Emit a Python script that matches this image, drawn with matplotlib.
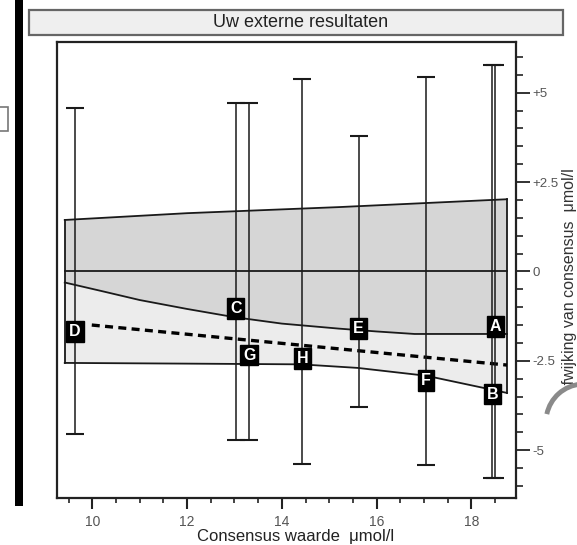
import numpy as np
import matplotlib.pyplot as plt
from matplotlib.patches import Rectangle, Circle, Arc

plt.rcParams['font.family'] = ['Liberation Sans', 'DejaVu Sans']

# labs: letter, consensus value, deviation from consensus
labels = ['A', 'B', 'C', 'D', 'E', 'F', 'G', 'H']
lab_x = [18.50, 18.44, 13.03, 9.64, 15.62, 17.04, 13.31, 14.43]
lab_y = [-1.55, -3.43, -1.04, -1.69, -1.59, -3.05, -2.34, -2.43]

# allowed deviation (bars around 0)
bar_x = [9.64, 13.03, 13.31, 14.43, 15.62, 17.05, 18.44, 18.50]
bar_half = [4.56, 4.72, 4.72, 5.38, 3.78, 5.43, 5.77, 5.77]

# band boundaries
band_x = [9.42, 12.0, 15.2, 18.75]
band_top = [1.44, 1.63, 1.80, 2.02]
curve_x = [9.42, 10.2, 11.0, 12.0, 13.0, 14.0, 15.2, 16.0, 16.8, 18.75]
curve_y = [-0.31, -0.55, -0.80, -1.05, -1.28, -1.46, -1.60, -1.68, -1.75, -1.75]
low_x = [9.42, 12.0, 14.4, 15.6, 17.05, 18.4, 18.75]
low_y = [-2.56, -2.58, -2.60, -2.70, -2.92, -3.30, -3.40]

# dashed trend
trend_x = [9.99, 18.75]
trend_y = [-1.50, -2.62]

W, H = 577, 545
fig = plt.figure(figsize=(W / 100, H / 100), dpi=100)


def px_rect(x0, y0, x1, y1, **kw):
    # rectangle in pixel coords (y from top)
    r = Rectangle((x0 / W, 1 - y1 / H), (x1 - x0) / W, (y1 - y0) / H,
                  transform=fig.transFigure, **kw)
    fig.patches.append(r)


# page decorations
px_rect(15.3, -2, 23, 506, facecolor='black', edgecolor='none')
px_rect(-2, 107, 7.5, 131, facecolor='none', edgecolor='#777777', lw=1.2)
px_rect(29, 10, 563, 35, facecolor='#efefef', edgecolor='#666666', lw=1.6)
fig.text(301 / W, 1 - 22.5 / H, 'Uw externe resultaten', ha='center', va='center',
         fontsize=13, color='#222222')

ax = fig.add_axes([56.7 / W, 1 - 498 / H, (516 - 56.7) / W, (498 - 42) / H])

# shaded areas
ax.fill(np.r_[band_x, curve_x[::-1]], np.r_[band_top, curve_y[::-1]],
        color='#d6d6d6', lw=0, zorder=1)
ax.fill(np.r_[curve_x, low_x[::-1]], np.r_[curve_y, low_y[::-1]],
        color='#ececec', lw=0, zorder=1)

lc = '#1a1a1a'
ax.plot(band_x, band_top, color=lc, lw=1.3, zorder=2)
ax.plot(curve_x, curve_y, color=lc, lw=1.3, zorder=2)
ax.plot(low_x, low_y, color=lc, lw=1.3, zorder=2)
ax.plot([band_x[0], band_x[0]], [band_top[0], low_y[0]], color=lc, lw=1.3, zorder=2)
ax.plot([band_x[-1], band_x[-1]], [band_top[-1], low_y[-1]], color=lc, lw=1.3, zorder=2)
ax.plot([band_x[0], band_x[-1]], [0, 0], color=lc, lw=1.3, zorder=2)

ax.plot(trend_x, trend_y, color='black', lw=2.4, dashes=(2.4, 1.6), zorder=3)

ax.errorbar(bar_x, np.zeros(len(bar_x)), yerr=bar_half, fmt='none',
            ecolor=lc, elinewidth=1.1, capsize=6.8, capthick=1.5, zorder=4)

for lab, x, y in zip(labels, lab_x, lab_y):
    ax.text(x, y, lab, ha='center', va='center', color='white', fontsize=11.5,
            fontweight='bold', zorder=6,
            bbox=dict(boxstyle='square,pad=0.18', fc='black', ec='black'))

ax.set_xlim(9.25, 18.94)
ax.set_ylim(-6.34, 6.42)

ax.set_xticks([10, 12, 14, 16, 18])
ax.set_xticks(np.arange(9.5, 19.0, 0.5), minor=True)
ax.set_yticks([-5, -2.5, 0, 2.5, 5])
ax.set_yticklabels(['-5', '-2.5', '0', '+2.5', '+5'])
ax.set_yticks(np.arange(-6.0, 6.01, 0.5), minor=True)

ax.yaxis.tick_right()
ax.tick_params(axis='both', which='both', direction='out', colors='#222222',
               labelcolor='#555555', labelsize=10)
ax.tick_params(axis='x', which='major', length=8, width=1.5, pad=4)
ax.tick_params(axis='x', which='minor', length=3.5, width=1.2)
ax.tick_params(axis='y', which='major', length=10, width=1.3, pad=2)
ax.tick_params(axis='y', which='minor', length=5, width=1.2)
for t in ax.get_yticklabels():
    t.set_fontsize(9.5)

for s in ax.spines.values():
    s.set_linewidth(1.6)
    s.set_color('#222222')

fig.text(296 / W, 1 - 544 / H, 'Consensus waarde  μmol/l', ha='center', va='bottom',
         fontsize=12, color='#222222')
fig.text(577 / W, 1 - 282 / H, 'Afwijking van consensus  μmol/l', ha='right',
         va='center', rotation=90, fontsize=11.5, color='#333333')

# binder-hole shadow from the scan
hc = (584 / 100, (H - 422) / 100)
fig.patches.append(Circle(hc, 0.38, transform=fig.dpi_scale_trans,
                          facecolor='white', edgecolor='none', zorder=10))
fig.patches.append(Arc(hc, 0.76, 0.76, theta1=95, theta2=168,
                       transform=fig.dpi_scale_trans, color='#8a8a8a', lw=3.5, zorder=11))

fig.savefig('out.png', dpi=100)
